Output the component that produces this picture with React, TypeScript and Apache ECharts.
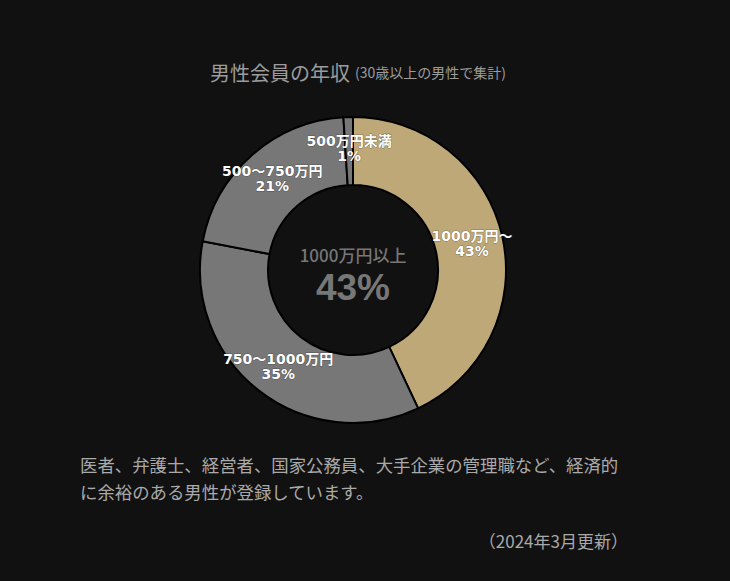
import React, { useEffect, useRef } from "react";
import * as echarts from "echarts";

const categories = ["1000万円～", "750～1000万円", "500～750万円", "500万円未満"];
const values = [43, 35, 21, 1];
const sliceColors = ["#bea878", "#777777", "#777777", "#777777"];
const titleMain = "男性会員の年収";
const titleSub = "(30歳以上の男性で集計)";
const centerLabel = "1000万円以上";
const centerValue = "43%";
const noteLines = [
  "医者、弁護士、経営者、国家公務員、大手企業の管理職など、経済的",
  "に余裕のある男性が登録しています。",
];
const updated = "（2024年3月更新）";

const FONT = "'Noto Sans CJK JP', 'Noto Sans', sans-serif";
const LABEL_FONT = "'DejaVu Sans', 'Noto Sans CJK JP', sans-serif";

export default function App() {
  const ref = useRef<HTMLDivElement>(null);
  useEffect(() => {
    if (!ref.current) return;
    const chart = echarts.init(ref.current, undefined, { renderer: "svg" });
    chart.setOption({
      animation: false,
      backgroundColor: "#111111",
      title: {
        text: `{m|${titleMain}} {s|${titleSub}}`,
        left: 353,
        textAlign: "center",
        top: 57,
        textStyle: {
          rich: {
            m: { fontSize: 20, fontWeight: "normal", color: "#9c9c9c", fontFamily: FONT },
            s: { fontSize: 14, fontWeight: "normal", color: "#9c9c9c", fontFamily: FONT },
          },
        },
      },
      graphic: [
        {
          type: "text",
          x: 353,
          y: 254,
          style: {
            text: centerLabel,
            fill: "#777777",
            font: `500 17px ${FONT}`,
            textAlign: "center",
            textVerticalAlign: "middle",
          },
        },
        {
          type: "text",
          x: 353,
          y: 287,
          style: {
            text: centerValue,
            fill: "#777777",
            font: "bold 37px 'Liberation Sans', Arial, sans-serif",
            textAlign: "center",
            textVerticalAlign: "middle",
          },
        },
        ...noteLines.map((t, i) => ({
          type: "text",
          x: 80,
          y: 464 + i * 27,
          style: {
            text: t,
            fill: "#aaaaaa",
            font: `17.4px ${FONT}`,
            textAlign: "left",
            textVerticalAlign: "middle",
          },
        })),
        {
          type: "text",
          x: 628,
          y: 540,
          style: {
            text: updated,
            fill: "#aaaaaa",
            font: `17px ${FONT}`,
            textAlign: "right",
            textVerticalAlign: "middle",
          },
        },
      ],
      series: [
        {
          type: "pie",
          center: [353, 270],
          radius: [85, 153],
          startAngle: 90,
          clockwise: true,
          avoidLabelOverlap: false,
          data: categories.map((c, i) => ({
            name: c,
            value: values[i],
            itemStyle: { color: sliceColors[i] },
          })),
          itemStyle: { borderColor: "#000000", borderWidth: 2 },
          label: {
            show: true,
            position: "inside",
            formatter: "{b}\n{c}%",
            color: "#ffffff",
            fontSize: 14,
            fontWeight: "bold",
            fontFamily: LABEL_FONT,
            lineHeight: 15,
            textBorderColor: "rgba(0,0,0,0.35)",
            textBorderWidth: 1,
          },
          labelLayout: { hideOverlap: false },
          labelLine: { show: false },
          emphasis: { disabled: true },
        },
      ],
    });
    return () => chart.dispose();
  }, []);
  return (
    <div
      ref={ref}
      style={{ position: "absolute", left: 0, top: 0, width: 730, height: 581 }}
    />
  );
}
